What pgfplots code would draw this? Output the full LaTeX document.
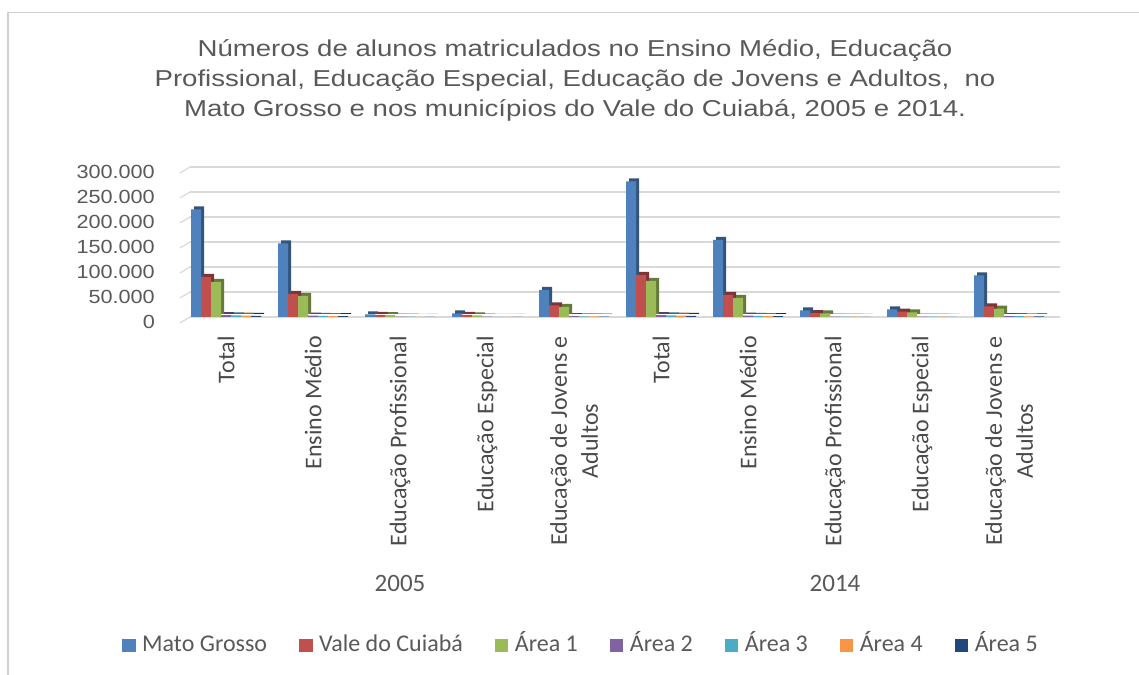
\documentclass[border=0pt]{standalone}
\usepackage{pgfplots}
\pgfplotsset{compat=1.18}
\usepackage{fontspec}
\setmainfont{Carlito}
\newfontfamily\titlefam[FakeStretch=1.2]{Liberation Sans}
\newfontfamily\tickfam[FakeStretch=1.14]{Liberation Sans}
\newfontfamily\catfam{Carlito}
\newcommand\catfont{\catfam\fontsize{24}{31}\selectfont}
\definecolor{cMT}{HTML}{4F81BD}
\definecolor{cVC}{HTML}{C0504D}
\definecolor{cA1}{HTML}{9BBB59}
\definecolor{cA2}{HTML}{8064A2}
\definecolor{cA3}{HTML}{4BACC6}
\definecolor{cA4}{HTML}{F79646}
\definecolor{cA5}{HTML}{1F497D}
\definecolor{gridc}{HTML}{D9D9D9}
\definecolor{framec}{HTML}{D0D0D0}
\definecolor{tc}{HTML}{595959}
\definecolor{catc}{HTML}{4A4A4A}
\begin{document}
\begin{tikzpicture}
\useasboundingbox (0pt,0pt) rectangle (1139pt,674pt);
\begin{scope}[x=1pt,y=1pt]
\draw[color=framec, line width=1.5pt] (8,-20) -- (8,661.5) -- (1170,661.5);
\node[font=\titlefam\fontsize{23}{30}\selectfont, text=tc, align=center] at (575,594)
 {Números de alunos matriculados no Ensino Médio, Educação\\
  Profissional, Educação Especial, Educação de Jovens e Adultos,~ no\\
  Mato Grosso e nos municípios do Vale do Cuiabá, 2005 e 2014.};
\foreach \k in {0,...,6} \draw[gridc, line width=1.2pt] (180,357+25*\k-6) -- (190,357+25*\k);
\node[font=\catfam\fontsize{25}{30}\selectfont, text=tc] at (400,91) {2005};
\node[font=\catfam\fontsize{25}{30}\selectfont, text=tc] at (835,91) {2014};
\end{scope}
\begin{axis}[
  scale only axis, width=870pt, height=150pt,
  at={(190pt,357pt)}, anchor=south west,
  xmin=-0.414, xmax=9.586, ymin=0, ymax=300000,
  scaled y ticks=false,
  ybar, bar width=10pt,
  axis line style={draw=none}, major tick length=0pt,
  ymajorgrids, grid style={color=gridc, line width=1.2pt},
  ytick={0,50000,100000,150000,200000,250000,300000},
  yticklabels={0,50.000,100.000,150.000,200.000,250.000,300.000},
  yticklabel style={font=\tickfam\fontsize{19}{22}\selectfont, text=tc, anchor=east, inner sep=0pt, xshift=-35pt, yshift=-5pt},
  xtick={0,1,2,3,4,5,6,7,8,9},
  xticklabels={Total, Ensino Médio, Educação Profissional, Educação Especial, {Educação de Jovens e\\Adultos},
               Total, Ensino Médio, Educação Profissional, Educação Especial, {Educação de Jovens e\\Adultos}},
  xticklabel style={font=\catfont, text=catc, yshift=-19pt, rotate=90, anchor=east, align=center, inner sep=0pt},
  clip=false,
  legend columns=7,
  legend style={at={(axis description cs:0.4494,-2.193)}, anchor=center, draw=none, fill=none,
    font=\catfont, text=tc, nodes={text height=17pt, text depth=5pt},
    /tikz/every even column/.append style={column sep=30pt}},
  legend image code/.code={\fill[#1] (0pt,-6.5pt) rectangle (13.5pt,7pt); \path (18pt,0pt);},
]
% Mato Grosso
\addplot[fill=cMT!65!black, draw=none, bar shift=-30pt, xshift=3pt, yshift=3pt, forget plot] coordinates {(0,215000) (1,147000) (2,5000) (3,7000) (4,54000) (5,271000) (6,154000) (7,13000) (8,15000) (9,83000)};
\addplot[fill=cMT, draw=none, bar shift=-30pt] coordinates {(0,215000) (1,147000) (2,5000) (3,7000) (4,54000) (5,271000) (6,154000) (7,13000) (8,15000) (9,83000)};
% Vale do Cuiaba
\addplot[fill=cVC!65!black, draw=none, bar shift=-20pt, xshift=3pt, yshift=3pt, forget plot] coordinates {(0,80000) (1,46000) (2,4000) (3,4000) (4,23000) (5,84000) (6,44000) (7,7500) (8,10500) (9,21000)};
\addplot[fill=cVC, draw=none, bar shift=-20pt] coordinates {(0,80000) (1,46000) (2,4000) (3,4000) (4,23000) (5,84000) (6,44000) (7,7500) (8,10500) (9,21000)};
% Area 1
\addplot[fill=cA1!65!black, draw=none, bar shift=-10pt, xshift=3pt, yshift=3pt, forget plot] coordinates {(0,70000) (1,42000) (2,3500) (3,3000) (4,20000) (5,72000) (6,38000) (7,7000) (8,9000) (9,16500)};
\addplot[fill=cA1, draw=none, bar shift=-10pt] coordinates {(0,70000) (1,42000) (2,3500) (3,3000) (4,20000) (5,72000) (6,38000) (7,7000) (8,9000) (9,16500)};
% Area 2
\addplot[fill=cA2!65!black, draw=none, bar shift=0pt, xshift=3pt, yshift=3pt, forget plot] coordinates {(0,3500) (1,2500) (2,500) (3,500) (4,1500) (5,3500) (6,2500) (7,600) (8,800) (9,1800)};
\addplot[fill=cA2, draw=none, bar shift=0pt] coordinates {(0,3500) (1,2500) (2,500) (3,500) (4,1500) (5,3500) (6,2500) (7,600) (8,800) (9,1800)};
% Area 3
\addplot[fill=cA3!65!black, draw=none, bar shift=10pt, xshift=3pt, yshift=3pt, forget plot] coordinates {(0,3000) (1,2000) (2,500) (3,400) (4,1200) (5,3000) (6,2000) (7,500) (8,600) (9,1500)};
\addplot[fill=cA3, draw=none, bar shift=10pt] coordinates {(0,3000) (1,2000) (2,500) (3,400) (4,1200) (5,3000) (6,2000) (7,500) (8,600) (9,1500)};
% Area 4
\addplot[fill=cA4!65!black, draw=none, bar shift=20pt, xshift=3pt, yshift=3pt, forget plot] coordinates {(0,2500) (1,1800) (2,400) (3,400) (4,1000) (5,2500) (6,1800) (7,500) (8,500) (9,1200)};
\addplot[fill=cA4, draw=none, bar shift=20pt] coordinates {(0,2500) (1,1800) (2,400) (3,400) (4,1000) (5,2500) (6,1800) (7,500) (8,500) (9,1200)};
% Area 5
\addplot[fill=cA5!65!black, draw=none, bar shift=30pt, xshift=3pt, yshift=3pt, forget plot] coordinates {(0,2000) (1,1500) (2,300) (3,300) (4,900) (5,2000) (6,1500) (7,400) (8,400) (9,1000)};
\addplot[fill=cA5, draw=none, bar shift=30pt] coordinates {(0,2000) (1,1500) (2,300) (3,300) (4,900) (5,2000) (6,1500) (7,400) (8,400) (9,1000)};
\legend{Mato Grosso, Vale do Cuiabá, Área 1, Área 2, Área 3, Área 4, Área 5}
\end{axis}
\end{tikzpicture}
\end{document}
